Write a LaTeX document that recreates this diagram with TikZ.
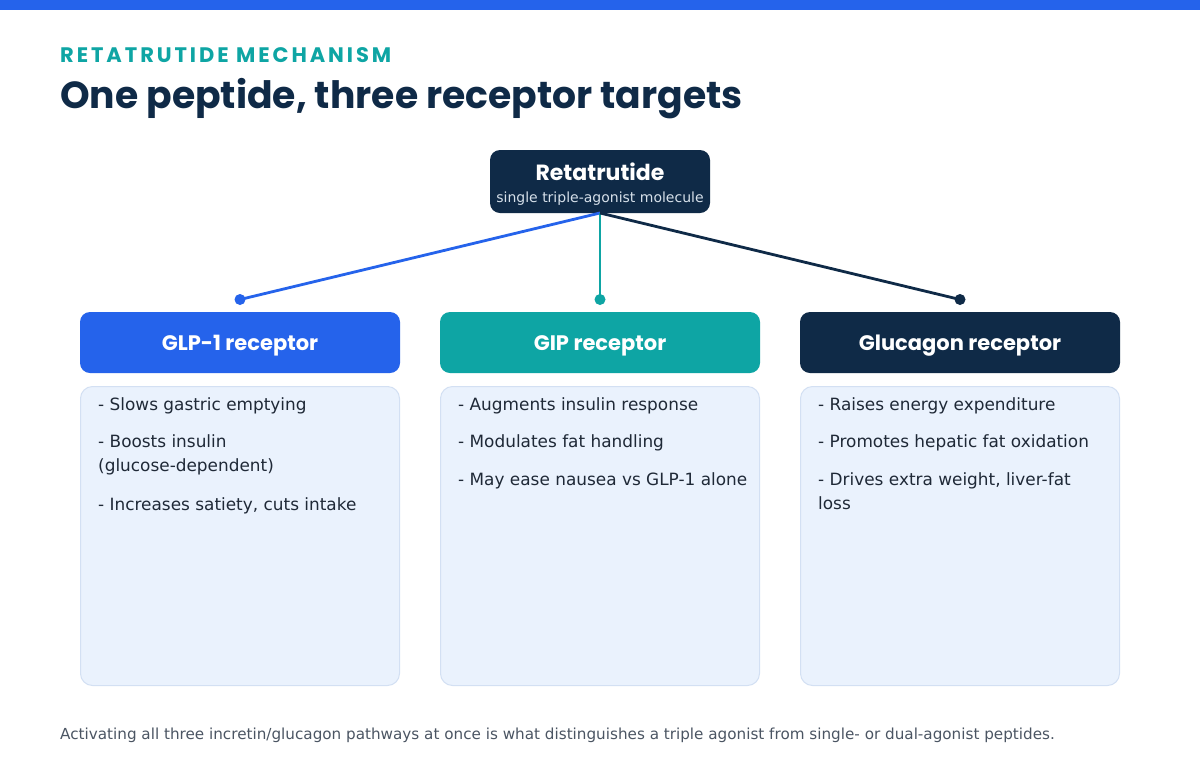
\documentclass[tikz,border=0pt]{standalone}
\usepackage{fontspec}
\setmainfont{DejaVu Sans}
\newfontfamily\pop{Poppins}
\newfontfamily\popls{Poppins}[LetterSpace=14]
\definecolor{cblue}{HTML}{2563EB}
\definecolor{cteal}{HTML}{0EA5A4}
\definecolor{cnavy}{HTML}{0F2A47}
\definecolor{ctext}{HTML}{1F2937}
\definecolor{cboxfill}{HTML}{EAF2FD}
\definecolor{cboxline}{HTML}{D3E0F3}
\definecolor{cfoot}{HTML}{4B5563}
\definecolor{csub}{HTML}{D6E0EA}
\tikzset{
  hdr/.style={rounded corners=10pt, minimum width=320pt, minimum height=61pt, inner sep=0pt},
  hdrtext/.style={anchor=base, inner sep=0pt, text=white, font={\pop\bfseries\fontsize{21}{24}\selectfont}},
  bodybox/.style={rounded corners=12pt, fill=cboxfill, draw=cboxline, line width=1pt},
  item/.style={anchor=base west, inner sep=0pt, align=left, text=ctext,
    font={\fontsize{16.9}{24}\selectfont}},
  link/.style={line width=2.8pt},
  dot/.style={circle, inner sep=0pt, minimum size=11pt},
}
\begin{document}
\begin{tikzpicture}[x=1pt,y=-1pt]
\useasboundingbox (0,0) rectangle (1200,780);
\fill[white] (0,0) rectangle (1200,780);
\fill[cblue] (0,0) rectangle (1200,10);
% headings
\node[anchor=base west, inner sep=0pt, text=cteal, font={\popls\bfseries\fontsize{21}{24}\selectfont}] (kicker) at (60,62) {RETATRUTIDE MECHANISM};
\node[anchor=base west, inner sep=0pt, text=cnavy, font={\pop\bfseries\fontsize{37.7}{46}\selectfont}] (title) at (60,108) {One peptide, three receptor targets};
% top node
\node[fill=cnavy, rounded corners=10pt, minimum width=220pt, minimum height=63pt, inner sep=0pt] (top) at (600,181.5) {};
\node[anchor=base, inner sep=0pt, text=white, font={\pop\bfseries\fontsize{22}{24}\selectfont}] (toptitle) at (600,180) {Retatrutide};
\node[anchor=base, inner sep=0pt, text=csub, font={\fontsize{14}{16}\selectfont}] (topsub) at (600,202) {single triple-agonist molecule};
\coordinate (src) at (600,213);
% dots
\node[dot, fill=cblue] (d1) at (240,299.5) {};
\node[dot, fill=cteal] (d2) at (600,299.5) {};
\node[dot, fill=cnavy] (d3) at (960,299.5) {};
\draw[link, cblue] (src) -- (d1.center);
\draw[link, cteal] (src) -- (d2.center);
\draw[link, cnavy] (src) -- (d3.center);
% headers
\node[hdr, fill=cblue] (h1) at (240,342.5) {};
\node[hdr, fill=cteal] (h2) at (600,342.5) {};
\node[hdr, fill=cnavy] (h3) at (960,342.5) {};
\node[hdrtext] (l1) at (240,350) {GLP-1 receptor};
\node[hdrtext] (l2) at (600,350) {GIP receptor};
\node[hdrtext] (l3) at (960,350) {Glucagon receptor};
% bodies
\draw[bodybox] (80.5,386.5) rectangle (399.5,685.5);
\draw[bodybox] (440.5,386.5) rectangle (759.5,685.5);
\draw[bodybox] (800.5,386.5) rectangle (1119.5,685.5);
\node[item] (a1) at (98,410) {- Slows gastric emptying};
\node[item] (a2) at (98,471) {- Boosts insulin\\(glucose-dependent)};
\node[item] (a3) at (98,510) {- Increases satiety, cuts intake};
\node[item] (b1) at (458,410) {- Augments insulin response};
\node[item] (b2) at (458,447) {- Modulates fat handling};
\node[item] (b3) at (458,485) {- May ease nausea vs GLP-1 alone};
\node[item] (c1) at (818,410) {- Raises energy expenditure};
\node[item] (c2) at (818,447) {- Promotes hepatic fat oxidation};
\node[item] (c3) at (818,509) {- Drives extra weight, liver-fat\\loss};
% footer
\node[anchor=base west, inner sep=0pt, text=cfoot, font={\fontsize{15.2}{18}\selectfont}] (foot) at (60,739) {Activating all three incretin/glucagon pathways at once is what distinguishes a triple agonist from single- or dual-agonist peptides.};
\end{tikzpicture}
\end{document}
